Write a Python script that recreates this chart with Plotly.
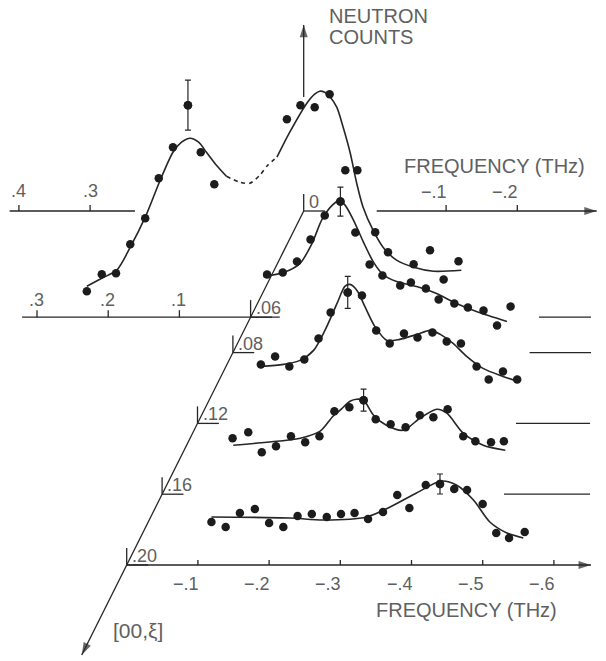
import plotly.graph_objects as go

# ---------------- data (frequency in THz, counts in arbitrary units) ----------------
xi_levels = [0.0, 0.06, 0.08, 0.12, 0.16, 0.20]
xi_labels = ["0", ".06", ".08", ".12", ".16", ".20"]

# spectrum at xi = .06 (two peaks, energy gain and loss)
A_xi = 0.06
A_freq = [0.230, 0.209, 0.189, 0.169, 0.148, 0.129, 0.109, 0.088, 0.070, 0.051,
          -0.051, -0.070, -0.090, -0.111, -0.133, -0.150, -0.175, -0.193, -0.229, -0.252, -0.292]
A_counts = [26, 43, 44, 73, 99, 139, 170, 212, 165, 133,
            198, 212, 210, 223, 147, 147, 85, 65, 53, 67, 56]
A_err_idx, A_err = 7, 25
A_fit_freq = [0.230, 0.209, 0.188, 0.169, 0.148, 0.127, 0.109, 0.097, 0.085, 0.073, 0.062, 0.048, 0.034,
              0.015, 0.001, -0.013, -0.024, -0.037,
              -0.055, -0.079, -0.090, -0.097, -0.104, -0.112, -0.121, -0.130, -0.140, -0.149, -0.158,
              -0.172, -0.186, -0.205, -0.229, -0.257, -0.296]
A_fit_counts = [31, 39, 47, 70, 100, 137, 165, 175, 179, 175, 165, 152, 141,
                135, 134, 142, 152, 160,
                185, 214, 223, 226, 225, 220, 210, 190, 164, 134, 110,
                87, 70, 57, 50, 46, 47]
A_dashed_span = (12, 17)   # indices of fit points drawn dashed

B_xi = 0.08
B_freq = [-0.048, -0.070, -0.090, -0.109, -0.129, -0.151, -0.172, -0.192, -0.210, -0.235,
          -0.250, -0.271, -0.289, -0.296, -0.311, -0.330, -0.352, -0.371, -0.390]
B_counts = [78, 80, 91, 113, 137, 151, 120, 88, 77, 67, 70, 64, 53, 73, 49, 45, 42, 27, 46]
B_err_idx, B_err = 5, 14.5
B_fit_freq = [-0.043, -0.071, -0.094, -0.111, -0.125, -0.139, -0.149, -0.157, -0.169, -0.183,
              -0.197, -0.211, -0.230, -0.258, -0.286, -0.314, -0.342, -0.385]
B_fit_counts = [76, 80, 89, 109, 133, 147, 152, 148, 133, 111, 91, 78, 71, 66, 59, 49, 41, 31]

C_xi = 0.12
C_freq = [-0.089, -0.109, -0.129, -0.150, -0.170, -0.187, -0.211, -0.231, -0.251, -0.270,
          -0.290, -0.309, -0.330, -0.350, -0.370, -0.392, -0.409, -0.429, -0.449]
C_counts = [59, 67, 57, 64, 85, 111, 131, 128, 93, 80, 90, 86, 91, 82, 80, 57, 44, 52, 44]
C_err_idx, C_err = 6, 16
C_fit_freq = [-0.089, -0.121, -0.144, -0.163, -0.179, -0.196, -0.207, -0.214, -0.224, -0.235, -0.249,
              -0.266, -0.284, -0.308, -0.327, -0.341, -0.359, -0.378, -0.401, -0.429, -0.450]
C_fit_counts = [57, 59, 63, 73, 93, 120, 137, 139, 133, 117, 97, 83, 84, 89, 93, 89, 80, 67, 55, 47, 42]

D_xi = 0.16
D_freq = [-0.099, -0.121, -0.140, -0.160, -0.181, -0.201, -0.221, -0.242, -0.263, -0.283,
          -0.300, -0.321, -0.342, -0.362, -0.381, -0.401, -0.423, -0.440, -0.462, -0.480]
D_counts = [56, 62, 42, 48, 58, 52, 58, 83, 87, 94, 75, 70, 67, 79, 77, 85, 58, 53, 52, 53]
D_err_idx, D_err = 9, 11
D_fit_freq = [-0.100, -0.147, -0.194, -0.222, -0.240, -0.250, -0.264, -0.273, -0.283, -0.297,
              -0.315, -0.339, -0.362, -0.386, -0.400, -0.423, -0.451, -0.482]
D_fit_counts = [49, 52, 56, 63, 78, 84, 93, 95, 94, 79, 69, 64, 76, 85, 81, 61, 49, 44]

E_xi = 0.20
E_freq = [-0.119, -0.139, -0.159, -0.180, -0.200, -0.220, -0.240, -0.260, -0.281, -0.301, -0.320, -0.339,
          -0.360, -0.380, -0.397, -0.420, -0.440, -0.460, -0.478, -0.500, -0.519, -0.537, -0.559]
E_counts = [43, 38, 52, 56, 42, 38, 49, 51, 48, 51, 52, 46, 53, 70, 57, 80, 81, 76, 75, 61, 32, 27, 33]
E_err_idx, E_err = 16, 10
E_fit_freq = [-0.119, -0.229, -0.276, -0.337, -0.370, -0.407, -0.442, -0.463, -0.487, -0.510, -0.534, -0.557]
E_fit_counts = [48, 47, 45, 48, 58, 72, 84, 80, 65, 43, 32, 27]

# frequency axis ticks
front_ticks = [-0.1, -0.2, -0.3, -0.4, -0.5, -0.6]
front_tick_text = ["\u2212.1", "\u2212.2", "\u2212.3", "\u2212.4", "\u2212.5", "\u2212.6"]
mid_ticks = [0.3, 0.2, 0.1]
mid_tick_text = [".3", ".2", ".1"]
back_ticks_left = [0.4, 0.3]
back_tick_text_left = [".4", ".3"]
back_ticks_right = [-0.1, -0.2]
back_tick_text_right = ["\u2212.1", "\u2212.2"]

# ---------------- geometry / style ----------------
W, H = 606, 661
PX_PER_THZ = 712.0
FRONT_XI = 0.20
SKEW_X = 885.0 / PX_PER_THZ     # THz shift per unit xi
SKEW_Y = 1770.0                 # count shift per unit xi
ORIGIN_PX, ORIGIN_PY = 126.7, 565.0
XR = [ORIGIN_PX / PX_PER_THZ, -(W - ORIGIN_PX) / PX_PER_THZ]
YR = [ORIGIN_PY - H, ORIGIN_PY]

INK = "#262626"
TXT = "#606060"
FONT = "Liberation Sans, Arial, sans-serif"


def proj(xi, f, c):
    d = FRONT_XI - xi
    return f - d * SKEW_X, c + d * SKEW_Y


def projl(xi, fs, cs):
    xs, ys = [], []
    for f, c in zip(fs, cs):
        if f is None:
            xs.append(None); ys.append(None)
        else:
            x, y = proj(xi, f, c)
            xs.append(x); ys.append(y)
    return xs, ys


fig = go.Figure()


def line(xi, fs, cs, width=1.3, dash=None, color=INK, shape="linear"):
    xs, ys = projl(xi, fs, cs)
    fig.add_trace(go.Scatter(x=xs, y=ys, mode="lines", hoverinfo="skip",
                             line=dict(color=color, width=width, dash=dash, shape=shape, smoothing=0.8)))


def arrow_head(xi, f0, c0, f1, c1, size=13):
    xs, ys = projl(xi, [f0, f1], [c0, c1])
    fig.add_trace(go.Scatter(x=xs, y=ys, mode="markers", hoverinfo="skip",
                             marker=dict(symbol="arrow", size=[0, size], angleref="previous",
                                         color=INK, line=dict(width=0))))


# ---- axes ----
# front frequency axis (xi = .20)
line(0.20, [0.0, -0.652], [0, 0])
arrow_head(0.20, -0.60, 0, -0.652, 0)
tf, tc = [], []
for t in front_ticks:
    tf += [t, t, None]; tc += [0, 5, None]
line(0.20, tf, tc)

# xi = .06 axis (left part)
line(0.06, [0.321, -0.041], [0, 0])
tf, tc = [], []
for t in mid_ticks:
    tf += [t, t, None]; tc += [0, 7, None]
line(0.06, tf, tc)

# back axis (xi = 0), partly hidden by the spectrum in front
line(0.0, [0.413, 0.237], [0, 0])
line(0.0, [-0.1025, -0.4115], [0, 0])
arrow_head(0.0, -0.36, 0, -0.4115, 0)
BACK_RIGHT_ZERO = -0.1
tf, tc = [], []
for t in back_ticks_left:
    tf += [t, t, None]; tc += [0, 6, None]
for t in back_ticks_right:
    tf += [t + BACK_RIGHT_ZERO] * 2 + [None]; tc += [0, 6, None]
line(0.0, tf, tc)

# neutron counts axis
line(0.0, [0.0, 0.0], [114, 186])
arrow_head(0.0, 0.0, 170, 0.0, 186)

# right-hand base-line stubs
stubs = {0.06: (-0.405, -0.478), 0.08: (-0.4167, -0.503), 0.12: (-0.4473, -0.5513), 0.16: (-0.4802, -0.601)}
for xi, (a, b) in stubs.items():
    line(xi, [a, b], [0, 0])

# xi axis (diagonal)
xi_end = 0.2508
dx0, dy0 = proj(0.0, 0, 0)
dx1, dy1 = proj(xi_end, 0, 0)
fig.add_trace(go.Scatter(x=[dx0, dx1], y=[dy0, dy1], mode="lines", hoverinfo="skip",
                         line=dict(color=INK, width=1.3)))
ax0, ay0 = proj(0.23, 0, 0)
fig.add_trace(go.Scatter(x=[ax0, dx1], y=[ay0, dy1], mode="markers", hoverinfo="skip",
                         marker=dict(symbol="arrow", size=[0, 13], angleref="previous",
                                     color=INK, line=dict(width=0))))
# L-shaped xi ticks
for xi in xi_levels:
    line(xi, [0, 0, None, 0, -0.03], [0, 17, None, 0, 0])

# ---- spectra ----
spectra = [
    (A_xi, A_freq, A_counts, A_err_idx, A_err, A_fit_freq, A_fit_counts),
    (B_xi, B_freq, B_counts, B_err_idx, B_err, B_fit_freq, B_fit_counts),
    (C_xi, C_freq, C_counts, C_err_idx, C_err, C_fit_freq, C_fit_counts),
    (D_xi, D_freq, D_counts, D_err_idx, D_err, D_fit_freq, D_fit_counts),
    (E_xi, E_freq, E_counts, E_err_idx, E_err, E_fit_freq, E_fit_counts),
]
for k, (xi, fq, ct, ei, ee, ff, fc) in enumerate(spectra):
    if k == 0:
        a, b = A_dashed_span
        line(xi, ff[:a + 1], fc[:a + 1], width=1.6, shape="spline")
        line(xi, ff[a:b + 1], fc[a:b + 1], width=1.6, dash="4px,4px", shape="spline")
        line(xi, ff[b:], fc[b:], width=1.6, shape="spline")
    else:
        line(xi, ff, fc, width=1.6, shape="spline")
    xs, ys = projl(xi, fq, ct)
    fig.add_trace(go.Scatter(x=xs, y=ys, mode="markers", hoverinfo="skip",
                             marker=dict(size=8.5, color="#1c1c1c", line=dict(width=0))))
    ex, ey = proj(xi, fq[ei], ct[ei])
    fig.add_trace(go.Scatter(x=[ex], y=[ey], mode="markers", hoverinfo="skip",
                             marker=dict(size=8.5, color="#1c1c1c"),
                             error_y=dict(type="data", array=[ee], visible=True,
                                          color=INK, thickness=1.2, width=3)))

# ---- text ----
ann = []


def label(xi, f, c, text, xanchor="center", xshift=0, yshift=0, size=18):
    x, y = proj(xi, f, c)
    ann.append(dict(x=x, y=y, xref="x", yref="y", text=text, showarrow=False,
                    xanchor=xanchor, yanchor="middle", xshift=xshift, yshift=yshift,
                    font=dict(family=FONT, size=size, color=TXT)))


for t, s in zip(front_ticks, front_tick_text):
    label(0.20, t, 0, s, xanchor="right", xshift=3, yshift=-19)
for t, s in zip(mid_ticks, mid_tick_text):
    label(0.06, t, 0, s, xshift=-1, yshift=17)
for t, s in zip(back_ticks_left, back_tick_text_left):
    label(0.0, t, 0, s, xshift=0, yshift=20)
for t, s in zip(back_ticks_right, back_tick_text_right):
    label(0.0, t + BACK_RIGHT_ZERO, 0, s, xanchor="right", xshift=3, yshift=19)
for xi, s in zip(xi_levels, xi_labels):
    label(xi, 0, 0, s, xanchor="left", xshift=3, yshift=9)


def ptext(px, py, text, size=20, xanchor="left"):
    ann.append(dict(x=px / W, y=1 - py / H, xref="paper", yref="paper", text=text, showarrow=False,
                    xanchor=xanchor, yanchor="middle", font=dict(family=FONT, size=size, color=TXT)))


ptext(327, 16, "NEUTRON")
ptext(327, 37, "COUNTS")
ptext(402, 166, "FREQUENCY (THz)")
ptext(374, 610, "FREQUENCY (THz)")
ptext(111, 630, "[00,\u03be]", size=21)

fig.update_layout(
    width=W, height=H, autosize=False,
    margin=dict(l=0, r=0, t=0, b=0, pad=0),
    paper_bgcolor="white", plot_bgcolor="white",
    showlegend=False,
    xaxis=dict(range=XR, visible=False, showgrid=False, zeroline=False, fixedrange=True),
    yaxis=dict(range=YR, visible=False, showgrid=False, zeroline=False, fixedrange=True),
    annotations=ann,
)

fig.write_html("out.html")
